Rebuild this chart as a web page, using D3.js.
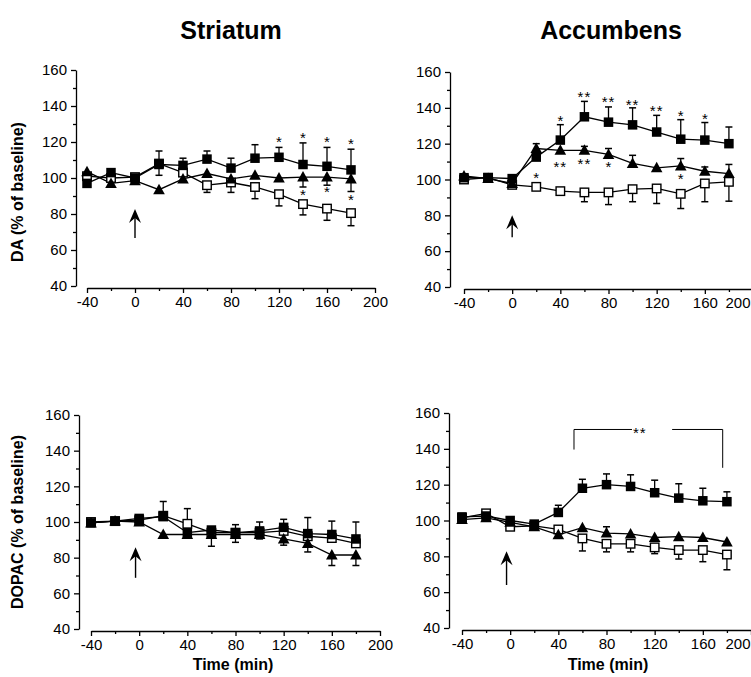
<!DOCTYPE html>
<html><head><meta charset="utf-8">
<script src="https://cdn.jsdelivr.net/npm/d3@7"></script>
<style>
html,body{margin:0;padding:0;background:#fff;}
svg{display:block;}
text{font-family:"Liberation Sans",Arial,Helvetica,sans-serif;fill:#000;}
</style></head><body>
<svg id="chart" width="751" height="677"></svg>
<script>
// ---------------- DATA ----------------
const times = [-40,-20,0,20,40,60,80,100,120,140,160,180];
const xTicks = [-40,0,40,80,120,160,200];
const xMinor = [-20,20,60,100,140,180];
const yTicks = [40,60,80,100,120,140,160];
const yMinor = [50,70,90,110,130,150];
const regions = ["Striatum","Accumbens"];
const measures = ["DA (% of baseline)","DOPAC (% of baseline)"];
const xLabel = "Time (min)";

// Striatum DA
const stDaFilled    = [97,103,100,107.5,107,110.5,105.5,111,111.5,107.5,106.5,104.5];
const stDaFilledErr = [null,null,null,115,111,115,111,118.5,117,119.5,117,116];
const stDaTri       = [103.5,97,98.5,93.5,99.5,102.5,99.5,101.5,100,100.5,100.5,99.5];
const stDaTriErr    = [null,null,null,null,null,null,null,null,null,95,96,92.5];
const stDaOpen      = [101,100,100.5,108,103,96,97.5,95,91,85.5,83,80.5];
const stDaOpenErr   = [null,null,null,101.5,null,92,92,88.5,84.5,79.5,76.5,73.5];
const stDaStars = [
  {t:120,v:121.3,s:"*"},{t:140,v:123.5,s:"*"},{t:160,v:121.3,s:"*"},{t:180,v:120,s:"*"},
  {t:140,v:91.7,s:"*"},{t:160,v:93.5,s:"*"},{t:180,v:88.9,s:"*"}
];

// Accumbens DA
const acDaFilled    = [101,101,100.5,112.5,122,135,132,130.5,126.5,122.5,122,120];
const acDaFilledErr = [null,null,null,null,130.6,143.6,140.5,140,135.8,133.4,131.8,129.3];
const acDaTri       = [102,100.5,97.8,117.3,116.3,116.3,114,109,106.5,107.6,104.6,103.3];
const acDaTriErr    = [null,null,null,120,null,118.5,117.3,113.5,null,111.7,107,108.4];
const acDaOpen      = [100,101,97,95.9,93.5,92.8,92.8,94.6,95,92,97.8,98.7];
const acDaOpenErr   = [null,null,null,null,null,87.6,86,87.6,86.6,83.8,87.6,87.9];
const acDaStars = [
  {t:40,v:133.6,s:"*"},{t:60,v:147.4,s:"**"},{t:80,v:144.2,s:"**"},{t:100,v:142.9,s:"**"},
  {t:120,v:139.5,s:"**"},{t:140,v:136.8,s:"*"},{t:160,v:134.9,s:"*"},
  {t:40,v:108,s:"**"},{t:60,v:109.8,s:"**"},{t:80,v:108,s:"*"},{t:140,v:101.5,s:"*"},
  {t:20,v:102,s:"*"}
];

// Striatum DOPAC
const stDoFilled    = [99.5,100.5,102,103,94,95.5,94,95,97,93.5,93,90.5];
const stDoFilledErr = [null,null,null,null,null,null,98.5,100,101.5,102.5,100.5,100];
const stDoTri       = [99.5,100.5,100,93,93,93,93,93,90.5,88,81.5,81.5];
const stDoTriErr    = [null,null,null,null,null,86.4,88.6,90.5,87,83.2,75.6,75.6];
const stDoOpen      = [100,100.5,101,103.5,99,94,94,94,95,92,91,88];
const stDoOpenErr   = [null,null,null,111.5,107.5,null,null,null,null,null,null,null];
const stDoStars = [];

// Accumbens DOPAC
const acDoFilled    = [102,102.5,100,98,104.5,118,120,119,115.5,112.5,111,110.5];
const acDoFilledErr = [null,null,null,null,108.5,123,126,125.5,122.5,120.5,118,116];
const acDoTri       = [100.5,101.5,99,96.5,92,96,93,92.5,90.5,91,90.5,88];
const acDoTriErr    = [null,null,null,null,null,null,96.5,null,null,null,null,null];
const acDoOpen      = [101.5,104,96.5,97,95,90,87,87,85,83.5,83.5,81];
const acDoOpenErr   = [null,null,null,null,null,83,82.5,82.5,81.5,78.5,77,72.5];
const acDoStars = [{t:107.6,v:149.9,s:"**"}];
const acDoBracket = {t0:53,t1:176.5,top:150.8,left:139.6,right:129.4};

// injection arrows (time, tip value, tail value)
const arrows = [
  {t:0,tip:82.8,tail:66.7},
  {t:0,tip:80,tail:67.8},
  {t:-3,tip:85.8,tail:68.7},
  {t:-3,tip:82.8,tail:64}
];

// ---------------- LAYOUT ----------------
const svg = d3.select("#chart");
const panels = [
  {x:[87,375], y:[286,70], ax:76, lastEnd:null, series:[stDaFilled,stDaFilledErr,stDaTri,stDaTriErr,stDaOpen,stDaOpenErr], stars:stDaStars, arrow:arrows[0]},
  {x:[464,753], y:[287,72], ax:450, lastEnd:750, series:[acDaFilled,acDaFilledErr,acDaTri,acDaTriErr,acDaOpen,acDaOpenErr], stars:acDaStars, arrow:arrows[1]},
  {x:[91,380], y:[629,415], ax:79, lastEnd:null, series:[stDoFilled,stDoFilledErr,stDoTri,stDoTriErr,stDoOpen,stDoOpenErr], stars:stDoStars, arrow:arrows[2]},
  {x:[462,751], y:[628,413], ax:449, lastEnd:750, series:[acDoFilled,acDoFilledErr,acDoTri,acDoTriErr,acDoOpen,acDoOpenErr], stars:acDoStars, arrow:arrows[3], bracket:acDoBracket}
];

function drawPanel(p){
  const x = d3.scaleLinear().domain([-40,200]).range(p.x);
  const y = d3.scaleLinear().domain([40,160]).range(p.y);
  const g = svg.append("g");
  const fmt = d => String(d);

  // y axis
  g.append("g").attr("transform",`translate(${p.ax},0)`)
    .call(d3.axisLeft(y).tickValues(yTicks).tickSize(5).tickSizeOuter(0).tickPadding(4).tickFormat(fmt));
  g.append("g").attr("transform",`translate(${p.ax},0)`)
    .call(d3.axisLeft(y).tickValues(yMinor).tickSize(3).tickSizeOuter(0).tickFormat(""))
    .select(".domain").remove();
  // x axis
  const xy = y(40)+2;
  const xa = g.append("g").attr("transform",`translate(0,${xy})`)
    .call(d3.axisBottom(x).tickValues(xTicks).tickSize(5).tickSizeOuter(0).tickPadding(3).tickFormat(fmt));
  g.append("g").attr("transform",`translate(0,${xy})`)
    .call(d3.axisBottom(x).tickValues(xMinor).tickSize(3).tickSizeOuter(0).tickFormat(""))
    .select(".domain").remove();
  g.selectAll(".domain, .tick line").attr("stroke","#000").attr("stroke-width",1.3);
  g.selectAll(".tick text").attr("font-size",15).attr("font-family","Liberation Sans, Arial, sans-serif").attr("fill","#000");
  if(p.lastEnd!=null){
    xa.selectAll(".tick").filter(d=>d===200).select("text")
      .attr("text-anchor","end").attr("x",p.lastEnd - x(200));
  }

  const [fv,fe,tv,te,ov,oe] = p.series;
  const line = d3.line().x((d,i)=>x(times[i])).y(d=>y(d));
  [ov,tv,fv].forEach(s=>{
    g.append("path").datum(s).attr("d",line).attr("fill","none").attr("stroke","#000").attr("stroke-width",1.3);
  });
  // error bars
  [fe,te,oe].forEach((errs,k)=>{
    const vals = [fv,tv,ov][k];
    errs.forEach((e,i)=>{
      if(e==null) return;
      const cx = x(times[i]);
      g.append("line").attr("x1",cx).attr("x2",cx).attr("y1",y(vals[i])).attr("y2",y(e))
        .attr("stroke","#000").attr("stroke-width",1.3);
      g.append("line").attr("x1",cx-3.5).attr("x2",cx+3.5).attr("y1",y(e)).attr("y2",y(e))
        .attr("stroke","#000").attr("stroke-width",1.5);
    });
  });
  // markers
  const sq = 9.5;
  g.selectAll(null).data(ov).enter().append("rect")
    .attr("x",(d,i)=>x(times[i])-sq/2+0.5).attr("y",d=>y(d)-sq/2+0.5)
    .attr("width",sq-1).attr("height",sq-1).attr("fill","#fff").attr("stroke","#000").attr("stroke-width",1.4);
  g.selectAll(null).data(tv).enter().append("path")
    .attr("d",(d,i)=>{const cx=x(times[i]),cy=y(d);return `M${cx},${cy-6}L${cx+5.8},${cy+4.5}L${cx-5.8},${cy+4.5}Z`;})
    .attr("fill","#000");
  g.selectAll(null).data(fv).enter().append("rect")
    .attr("x",(d,i)=>x(times[i])-sq/2).attr("y",d=>y(d)-sq/2)
    .attr("width",sq).attr("height",sq).attr("fill","#000");

  // stars
  p.stars.forEach(s=>{
    g.append("text").attr("x",x(s.t)).attr("y",y(s.v)+7).attr("text-anchor","middle")
      .attr("font-size",15).attr("fill","#000").attr("letter-spacing",s.s.length>1?1:0).text(s.s);
  });
  // arrow
  const a = p.arrow, axp = x(a.t), tip = y(a.tip), tail = y(a.tail);
  g.append("line").attr("x1",axp).attr("x2",axp).attr("y1",tip+4).attr("y2",tail).attr("stroke","#000").attr("stroke-width",1.4);
  g.append("path").attr("d",`M${axp},${tip}L${axp+6},${tip+14}L${axp},${tip+9}L${axp-6},${tip+14}Z`).attr("fill","#000");
  // bracket
  if(p.bracket){
    const b = p.bracket, x0=x(b.t0), x1=x(b.t1), yt=y(b.top);
    const xm0 = x(b.t0+(b.t1-b.t0)*0.39), xm1 = x(b.t0+(b.t1-b.t0)*0.66);
    g.append("path").attr("d",`M${x0},${y(b.left)}V${yt}H${xm0}M${xm1},${yt}H${x1}V${y(b.right)}`)
      .attr("fill","none").attr("stroke","#000").attr("stroke-width",1);
  }
}
panels.forEach(drawPanel);

// titles
svg.append("text").attr("x",231).attr("y",39).attr("text-anchor","middle").attr("font-size",25).attr("font-weight","bold").text(regions[0]);
svg.append("text").attr("x",611).attr("y",39).attr("text-anchor","middle").attr("font-size",25).attr("font-weight","bold").text(regions[1]);
// y labels
svg.append("text").attr("transform","translate(23,192) rotate(-90)").attr("text-anchor","middle").attr("font-size",16).attr("font-weight","bold").text(measures[0]);
svg.append("text").attr("transform","translate(23,522) rotate(-90)").attr("text-anchor","middle").attr("font-size",16).attr("font-weight","bold").text(measures[1]);
// x labels
svg.append("text").attr("x",233).attr("y",670).attr("text-anchor","middle").attr("font-size",16).attr("font-weight","bold").text(xLabel);
svg.append("text").attr("x",608).attr("y",670).attr("text-anchor","middle").attr("font-size",16).attr("font-weight","bold").text(xLabel);
</script>
</body></html>
